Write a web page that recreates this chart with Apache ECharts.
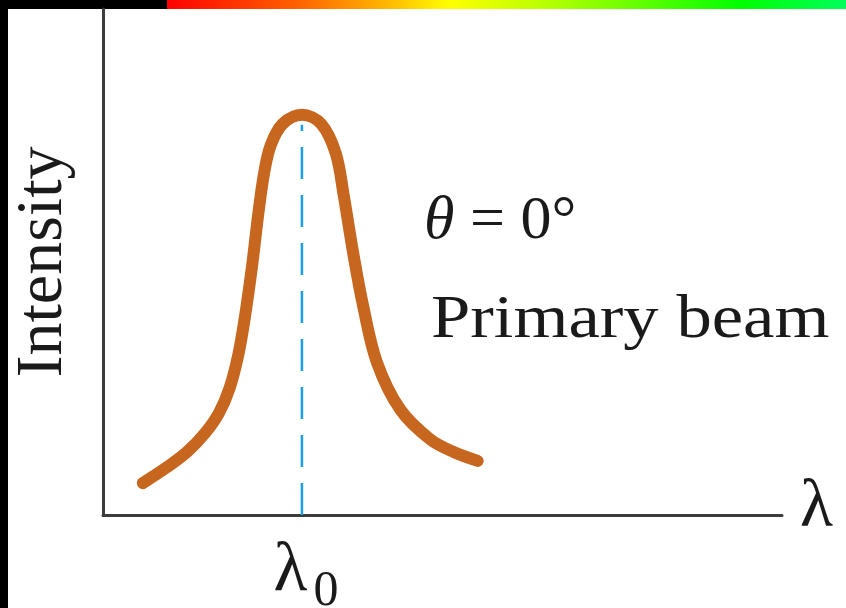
<!DOCTYPE html>
<html>
<head>
<meta charset="utf-8">
<script src="https://cdn.jsdelivr.net/npm/echarts@6/dist/echarts.min.js"></script>
<style>
  html, body { margin: 0; padding: 0; background: #ffffff; }
  #chart { width: 846px; height: 608px; }
</style>
</head>
<body>
<div id="chart"></div>
<script>
// Wavelength (arbitrary units) and intensity of the primary beam at θ = 0°
const lambda = [6.0, 9.7, 12.7, 15.4, 17.5, 19.1, 20.4, 21.4, 22.5, 23.4, 24.3, 25.3, 27.1, 30.0,
                32.9, 35.1, 36.3, 37.7, 39.2, 41.3, 44.8, 49.3, 52.8, 56.5];
const intensity = [6.3, 9.5, 12.5, 16.2, 20.2, 25.1, 31.6, 39.1, 49.4, 59.3, 67.6, 73.1, 77.3, 79.1,
                   77.3, 71.5, 63.2, 52.0, 41.5, 30.2, 20.9, 15.0, 12.5, 10.7];
// Position of the peak wavelength λ0 and the top of its marker line
const lambda0 = 30;
const lambda0Top = 77.1;
const xRange = [0, 102.4];
const yRange = [0, 100];

const curve = lambda.map((x, i) => [x, intensity[i]]);
const serif = '"Liberation Serif", "DejaVu Serif", serif';

const chart = echarts.init(document.getElementById('chart'), null, { renderer: 'canvas' });
chart.setOption({
  backgroundColor: '#ffffff',
  animation: false,
  grid: { left: 103, right: 64, top: 9, bottom: 93, containLabel: false, outerBoundsMode: 'none' },
  xAxis: {
    type: 'value',
    min: xRange[0],
    max: xRange[1],
    interval: lambda0,
    name: '{n|λ}',
    nameLocation: 'end',
    nameGap: 18,
    nameTextStyle: {
      fontFamily: serif, fontSize: 68, color: '#1a1a1a',
      rich: { n: { fontFamily: serif, fontSize: 68, color: '#1a1a1a', padding: [0, 0, 14, 0] } }
    },
    axisLine: { show: true, onZero: true, lineStyle: { color: '#3c3c3c', width: 3 } },
    axisTick: { show: false },
    splitLine: { show: false },
    axisLabel: {
      margin: 12,
      formatter: v => (v === lambda0 ? '{l|λ}{s|0}' : ''),
      rich: {
        l: { fontFamily: serif, fontSize: 70, color: '#1a1a1a', padding: [0, 0, 0, 8] },
        s: { fontFamily: serif, fontSize: 50, color: '#1a1a1a', padding: [40, 0, 0, 6] }
      }
    }
  },
  yAxis: {
    type: 'value',
    min: yRange[0],
    max: yRange[1],
    name: 'Intensity',
    nameLocation: 'middle',
    nameRotate: 90,
    nameGap: 26,
    nameTextStyle: { fontFamily: serif, fontSize: 66, color: '#1a1a1a' },
    axisLine: { show: true, lineStyle: { color: '#3c3c3c', width: 3 } },
    axisTick: { show: false },
    axisLabel: { show: false },
    splitLine: { show: false }
  },
  graphic: [
    { type: 'rect', left: 0, top: 0, shape: { width: 8, height: 608 }, style: { fill: '#000000' }, silent: true },
    { type: 'rect', left: 0, top: 0, shape: { width: 167, height: 9 }, style: { fill: '#000000' }, silent: true },
    {
      type: 'rect', left: 167, top: 0, shape: { width: 679, height: 9 }, silent: true,
      style: {
        fill: new echarts.graphic.LinearGradient(0, 0, 1, 0, [
          { offset: 0, color: '#ff0000' },
          { offset: 0.196, color: '#ff6400' },
          { offset: 0.314, color: '#ffb000' },
          { offset: 0.417, color: '#ffff00' },
          { offset: 0.564, color: '#b4ff00' },
          { offset: 0.675, color: '#70ff00' },
          { offset: 0.844, color: '#00ff00' },
          { offset: 1, color: '#00ff5c' }
        ])
      }
    },
    {
      type: 'text', x: 424, y: 222, silent: true,
      style: {
        text: '{t|θ} = 0°',
        font: '62px ' + serif,
        fill: '#1a1a1a',
        verticalAlign: 'middle',
        rich: { t: { fontStyle: 'italic', fontFamily: serif, fontSize: 62, fill: '#1a1a1a' } }
      }
    },
    {
      type: 'text', x: 431, y: 321, scaleX: 1.14, silent: true,
      style: {
        text: 'Primary beam',
        font: '62px ' + serif,
        fill: '#1a1a1a',
        verticalAlign: 'middle'
      }
    }
  ],
  series: [
    {
      type: 'line',
      name: 'λ0',
      data: [[lambda0, 0], [lambda0, lambda0Top]],
      showSymbol: false,
      silent: true,
      lineStyle: { color: '#1b9ee8', width: 2.5, type: [32, 16] },
      z: 2
    },
    {
      type: 'line',
      name: 'Primary beam',
      data: curve,
      smooth: 0.35,
      showSymbol: false,
      silent: true,
      lineStyle: { color: '#c6661f', width: 12, cap: 'round', join: 'round' },
      z: 3
    }
  ]
});
</script>
</body>
</html>
